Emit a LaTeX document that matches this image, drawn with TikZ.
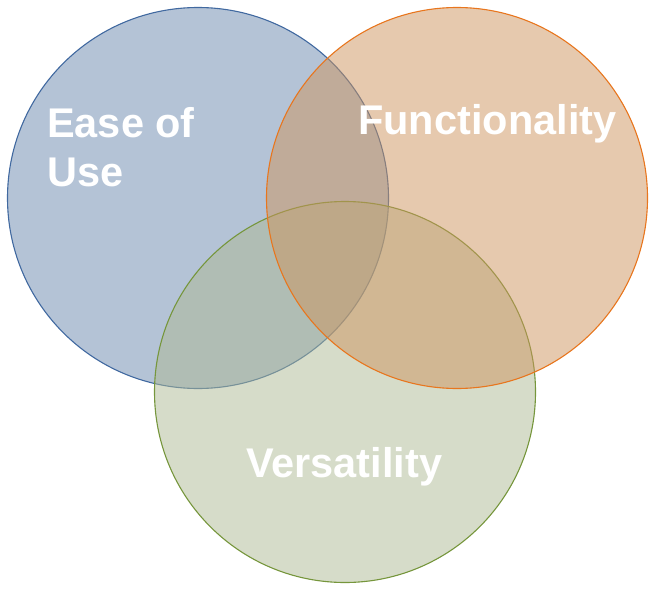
\documentclass[tikz,border=0pt]{standalone}
\usepackage{fontspec}
\setmainfont{Liberation Sans}
\usepackage{xcolor}
\usetikzlibrary{positioning}
\definecolor{easefill}{RGB}{105,135,173}
\definecolor{easeline}{RGB}{65,105,160}
\definecolor{funcfill}{RGB}{205,147,93}
\definecolor{funcline}{RGB}{232,118,30}
\definecolor{versfill}{RGB}{173,185,147}
\definecolor{versline}{RGB}{118,150,60}
\tikzset{
  setc/.style={circle, minimum size=381pt, inner sep=0pt, line width=1.1pt, fill opacity=0.5},
  ease/.style={setc, draw=easeline, fill=easefill},
  func/.style={setc, draw=funcline, fill=funcfill},
  vers/.style={setc, draw=versline, fill=versfill},
  lbl/.style={text=white, font=\fontsize{41.5}{49}\selectfont\bfseries, align=left, inner sep=0pt},
}
\begin{document}
\begin{tikzpicture}[x=1pt, y=-1pt]
\useasboundingbox (0,0) rectangle (655,599);
\node[ease] (eu) at (198,198) {};
\node[vers] (vs) at (345,392) {};
\node[func] (fn) at (457,198) {};
\node[lbl, anchor=base west] (eulbl) at (47,186) {Ease of\\Use};
\node[lbl, anchor=base west] (fnlbl) at (358,134) {Functionality};
\node[lbl, anchor=base west] (vslbl) at (246,477) {Versatility};
\end{tikzpicture}
\end{document}
